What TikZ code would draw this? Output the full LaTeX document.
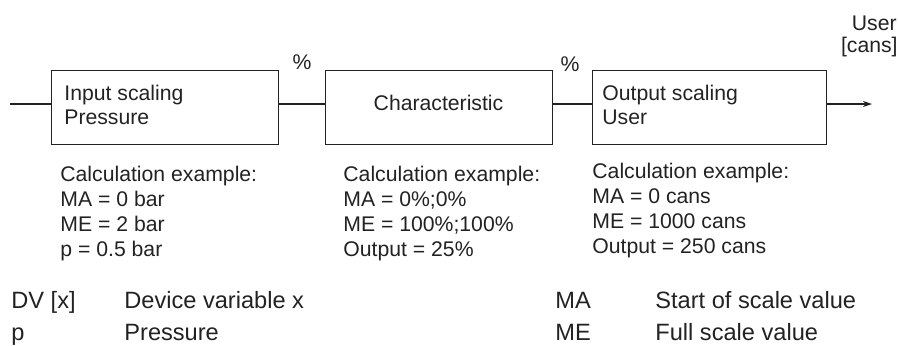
\documentclass[tikz,border=0pt]{standalone}
\usepackage{fontspec}
\setmainfont{Liberation Sans}
\usetikzlibrary{arrows.meta}
\definecolor{ink}{HTML}{222222}
\begin{document}
\begin{tikzpicture}[x=0.5pt,y=-0.5pt,
  blk/.style={draw=ink,line width=0.65pt,inner sep=0pt},
  txt/.style={inner sep=0pt,anchor=base west,text=ink,font=\fontsize{10.6pt}{12.5pt}\selectfont},
  leg/.style={inner sep=0pt,anchor=base west,text=ink,font=\fontsize{11.8pt}{14pt}\selectfont},
  wire/.style={draw=ink,line width=0.65pt}]
\useasboundingbox (0,0) rectangle (898,345);
% boxes
\node[blk,minimum width=227pt*0.5,minimum height=74pt*0.5,anchor=north west] (b1) at (51,70) {};
\node[blk,minimum width=227pt*0.5,minimum height=74pt*0.5,anchor=north west] (b2) at (325,70) {};
\node[blk,minimum width=234pt*0.5,minimum height=74pt*0.5,anchor=north west] (b3) at (592,70) {};
% box texts
\node[txt] (t1a) at (64,100) {Input scaling};
\node[txt] (t1b) at (64,124) {Pressure};
\node[txt,anchor=base] (t2) at (438.5,110) {Characteristic};
\node[txt] (t3a) at (602,100) {Output scaling};
\node[txt] (t3b) at (602,124) {User};
% connectors
\coordinate (in) at (10,104);
\coordinate (out) at (872,104);
\draw[wire] (in) -- (in -| b1.west);
\draw[wire] (b1.east |- in) -- (b2.west |- in);
\draw[wire] (b2.east |- in) -- (b3.west |- in);
\draw[wire,-{Stealth[length=4.5pt,width=3pt]}] (b3.east |- in) -- (out);
% labels on wires
\node[txt,anchor=base] (p1) at (302,69) {\%};
\node[txt,anchor=base] (p2) at (570,71) {\%};
\node[txt,anchor=base east] (u1) at (897,30) {User};
\node[txt,anchor=base east] (u2) at (898,52) {[cans]};
% calculation examples
\node[txt] (c1a) at (60,181) {Calculation example:};
\node[txt] (c1b) at (60,206) {MA = 0 bar};
\node[txt] (c1c) at (60,231) {ME = 2 bar};
\node[txt] (c1d) at (60,256) {p = 0.5 bar};
\node[txt] (c2a) at (343,181) {Calculation example:};
\node[txt] (c2b) at (343,206) {MA = 0\%;0\%};
\node[txt] (c2c) at (343,231) {ME = 100\%;100\%};
\node[txt] (c2d) at (343,256) {Output = 25\%};
\node[txt] (c3a) at (592,178) {Calculation example:};
\node[txt] (c3b) at (592,203) {MA = 0 cans};
\node[txt] (c3c) at (592,228) {ME = 1000 cans};
\node[txt] (c3d) at (592,253) {Output = 250 cans};
% legend
\node[leg] (l1a) at (11,308) {DV [x]};
\node[leg] (l1b) at (124,308) {Device variable x};
\node[leg] (l2a) at (11,340) {p};
\node[leg] (l2b) at (124,340) {Pressure};
\node[leg] (l3a) at (555,308) {MA};
\node[leg] (l3b) at (655,308) {Start of scale value};
\node[leg] (l4a) at (555,340) {ME};
\node[leg] (l4b) at (655,340) {Full scale value};
\end{tikzpicture}
\end{document}
